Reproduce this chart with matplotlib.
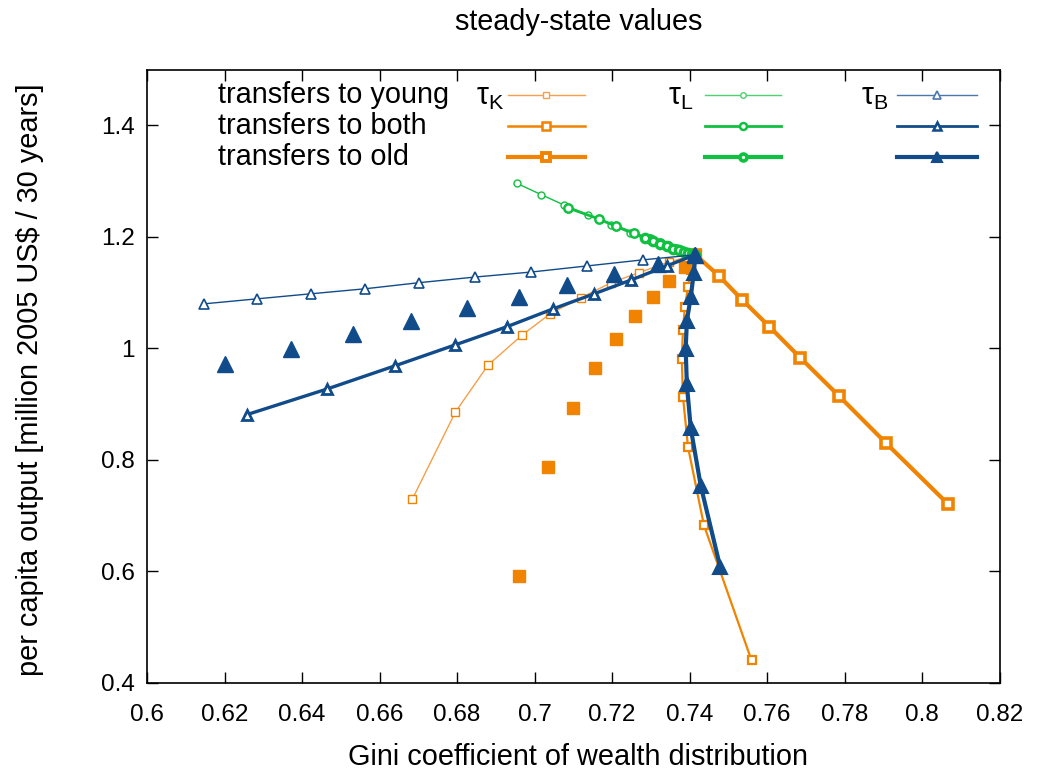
import numpy as np
import matplotlib
matplotlib.use("Agg")
import matplotlib.pyplot as plt

plt.rcParams['font.family'] = ['Liberation Sans', 'DejaVu Sans']
plt.rcParams['font.size'] = 20

orange = '#f08300'
orange_lt = '#f5a04a'
green = '#10c040'
green_lt = '#50d070'
blue = '#114b8a'
blue_lt = '#4a78aa'

# tau_K  (capital tax)
tk_young_x = [0.6685, 0.6796, 0.6880, 0.6968, 0.7040, 0.7120, 0.7198, 0.7270, 0.7346, 0.7415]
tk_young_y = [0.730, 0.886, 0.970, 1.024, 1.062, 1.091, 1.118, 1.136, 1.155, 1.168]
tk_both_x = [0.7415, 0.7403, 0.7396, 0.7388, 0.7383, 0.7380, 0.7383, 0.7396, 0.7437, 0.7560]
tk_both_y = [1.168, 1.141, 1.110, 1.075, 1.033, 0.981, 0.913, 0.823, 0.683, 0.440]
tk_old_x = [0.7415, 0.7476, 0.7536, 0.7606, 0.7686, 0.7785, 0.7907, 0.8068]
tk_old_y = [1.168, 1.130, 1.087, 1.039, 0.983, 0.915, 0.830, 0.720]
tk_pts_x = [0.6960, 0.7035, 0.7100, 0.7157, 0.7209, 0.7258, 0.7305, 0.7346, 0.7388, 0.7415]
tk_pts_y = [0.592, 0.787, 0.893, 0.965, 1.017, 1.058, 1.092, 1.121, 1.146, 1.168]

# tau_L  (labour tax)
tl_young_x = [0.6955, 0.7017, 0.7077, 0.7137, 0.7197, 0.7247, 0.7287, 0.7322, 0.7352, 0.7377, 0.7397, 0.7415]
tl_young_y = [1.296, 1.276, 1.257, 1.240, 1.222, 1.207, 1.196, 1.187, 1.180, 1.175, 1.171, 1.168]
tl_both_x = [0.7087, 0.7167, 0.7211, 0.7256, 0.7297, 0.7323, 0.7345, 0.7364, 0.7380, 0.7393, 0.7404, 0.7415]
tl_both_y = [1.252, 1.232, 1.219, 1.207, 1.196, 1.189, 1.183, 1.179, 1.175, 1.172, 1.170, 1.168]
tl_old_x = [0.7284, 0.7305, 0.7325, 0.7342, 0.7358, 0.7372, 0.7385, 0.7396, 0.7406, 0.7415]
tl_old_y = [1.198, 1.192, 1.187, 1.183, 1.179, 1.176, 1.173, 1.171, 1.169, 1.168]

# tau_B  (bequest tax)
tb_young_x = [0.6148, 0.6285, 0.6423, 0.6563, 0.6703, 0.6846, 0.6991, 0.7136, 0.7281, 0.7415]
tb_young_y = [1.080, 1.089, 1.098, 1.107, 1.118, 1.128, 1.137, 1.148, 1.159, 1.168]
tb_both_x = [0.6257, 0.6464, 0.6641, 0.6794, 0.6929, 0.7048, 0.7154, 0.7250, 0.7341, 0.7415]
tb_both_y = [0.881, 0.927, 0.969, 1.006, 1.039, 1.071, 1.098, 1.123, 1.148, 1.168]
tb_old_x = [0.7415, 0.7411, 0.7403, 0.7393, 0.7390, 0.7393, 0.7403, 0.7429, 0.7479]
tb_old_y = [1.168, 1.136, 1.092, 1.049, 0.999, 0.936, 0.857, 0.753, 0.608]
tb_pts_x = [0.6200, 0.6371, 0.6532, 0.6682, 0.6825, 0.6960, 0.7084, 0.7204, 0.7318, 0.7415]
tb_pts_y = [0.972, 0.999, 1.026, 1.049, 1.073, 1.092, 1.114, 1.134, 1.152, 1.168]

xtick_labels = ['0.6', '0.62', '0.64', '0.66', '0.68', '0.7', '0.72',
                '0.74', '0.76', '0.78', '0.8', '0.82']
ytick_vals = [0.4, 0.6, 0.8, 1.0, 1.2, 1.4]
ytick_labels = ['0.4', '0.6', '0.8', '1', '1.2', '1.4']

fig = plt.figure(figsize=(10.5, 7.75), dpi=100)
ax = fig.add_axes([0.14, 0.119, 0.812, 0.791])

# tau_K
ax.plot(tk_young_x, tk_young_y, color=orange_lt, lw=1.0, marker='s', ms=5.5,
        mfc='white', mec=orange, mew=1.0)
ax.plot(tk_both_x, tk_both_y, color=orange, lw=1.6, marker='s', ms=6,
        mfc='white', mec=orange, mew=1.6)
ax.plot(tk_old_x, tk_old_y, color=orange, lw=3.0, marker='s', ms=7,
        mfc='white', mec=orange, mew=2.6)
ax.plot(tk_pts_x, tk_pts_y, ls='none', marker='s', ms=8, color=orange)

# tau_L
ax.plot(tl_young_x, tl_young_y, color=green, lw=1.0, marker='o', ms=5,
        mfc='white', mec=green, mew=1.0)
ax.plot(tl_both_x, tl_both_y, color=green, lw=2.0, marker='o', ms=6,
        mfc='white', mec=green, mew=1.8)
ax.plot(tl_old_x, tl_old_y, color=green, lw=3.0, marker='o', ms=6,
        mfc='white', mec=green, mew=2.4)

# tau_B
ax.plot(tb_young_x, tb_young_y, color=blue, lw=1.0, marker='^', ms=7,
        mfc='white', mec=blue, mew=1.2)
ax.plot(tb_pts_x, tb_pts_y, ls='none', marker='^', ms=11, color=blue)
ax.plot(tb_both_x, tb_both_y, color=blue, lw=2.4, marker='^', ms=7,
        mfc='white', mec=blue, mew=2.0)
ax.plot(tb_old_x, tb_old_y, color=blue, lw=3.0, marker='^', ms=10,
        mfc=blue, mec=blue, mew=1.5)

ax.set_xlim(0.6, 0.82)
ax.set_ylim(0.4, 1.5)
ax.set_xticks(np.linspace(0.6, 0.82, len(xtick_labels)))
ax.set_xticklabels(xtick_labels)
ax.set_yticks(ytick_vals)
ax.set_yticklabels(ytick_labels)
ax.tick_params(direction='in', length=8, width=1, top=True, right=True,
               labelsize=17.5)
ax.tick_params(axis='x', pad=15)
ax.tick_params(axis='y', pad=9)
for s in ax.spines.values():
    s.set_linewidth(1.2)

# axis titles placed where the gnuplot output puts them
fig.text(578 / 1050, 1 - 757 / 775, 'Gini coefficient of wealth distribution',
         ha='center', va='center', fontsize=20.8)
fig.text(30 / 1050, 1 - 380 / 775, 'per capita output [million 2005 US$ / 30 years]',
         ha='center', va='center', rotation=90, fontsize=20.8)
fig.text(579 / 1050, 1 - 22 / 775, 'steady-state values',
         ha='center', va='center', fontsize=20.7)

# key, drawn in axes coordinates like gnuplot's
row_y = [0.959, 0.909, 0.858]
row_txt = ['transfers to young', 'transfers to both', 'transfers to old']
for yy, t in zip(row_y, row_txt):
    ax.text(0.083, yy, t, transform=ax.transAxes, ha='left', va='center', fontsize=20.8)

heads = [(0.419, r'τ$_\mathregular{K}$'), (0.641, r'τ$_\mathregular{L}$'), (0.870, r'τ$_\mathregular{B}$')]
for xx, t in heads:
    ax.text(xx, row_y[0] - 0.004, t, transform=ax.transAxes, ha='right', va='center', fontsize=22)

key_styles = [
    [(orange_lt, 1.0, 's', 5, 'white', 1.0), (orange, 1.8, 's', 6, 'white', 1.8), (orange, 3.0, 's', 6, 'white', 2.8)],
    [(green_lt, 1.0, 'o', 4, 'white', 1.0), (green, 2.0, 'o', 5, 'white', 1.8), (green, 3.0, 'o', 5, 'white', 2.6)],
    [(blue_lt, 1.0, '^', 6, 'white', 1.2), (blue, 2.0, '^', 6, 'white', 1.8), (blue, 3.0, '^', 7, blue, 1.5)],
]
key_x = [(0.423, 0.5135), (0.654, 0.744), (0.880, 0.973)]
for (x0, x1), styles in zip(key_x, key_styles):
    for yy, (c, lw, m, ms, fc, mw) in zip(row_y, styles):
        ax.plot([x0, x1], [yy, yy], transform=ax.transAxes, color=c, lw=lw, clip_on=False)
        ax.plot([(x0 + x1) / 2], [yy], transform=ax.transAxes, ls='none', marker=m, ms=ms,
                mfc=fc, mec=c, mew=mw, clip_on=False)

fig.savefig('out.png', dpi=100)
